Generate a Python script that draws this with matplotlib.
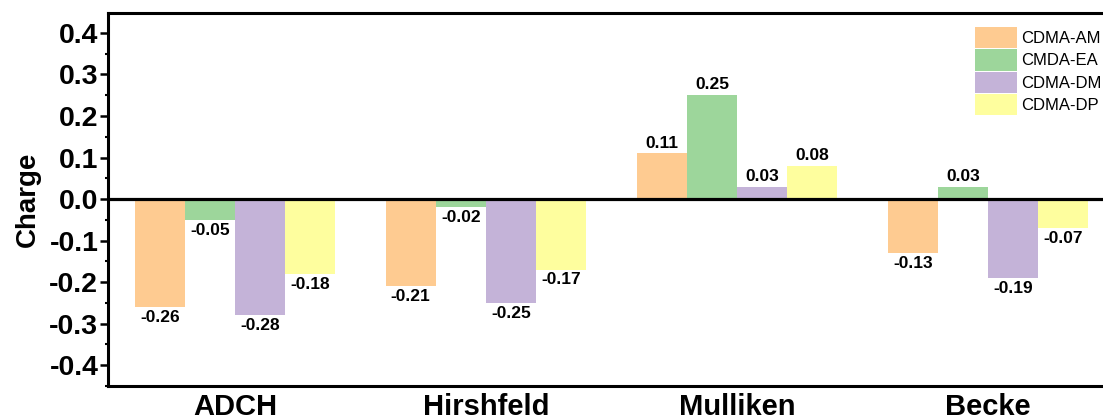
import matplotlib
matplotlib.use("Agg")
import matplotlib.pyplot as plt
from matplotlib.patches import Patch
from matplotlib.ticker import MultipleLocator
import numpy as np

methods = ["ADCH", "Hirshfeld", "Mulliken", "Becke"]
series = ["CDMA-AM", "CMDA-EA", "CDMA-DM", "CDMA-DP"]
cdma_am = [-0.26, -0.21, 0.11, -0.13]
cmda_ea = [-0.05, -0.02, 0.25, 0.03]
cdma_dm = [-0.28, -0.25, 0.03, -0.19]
cdma_dp = [-0.18, -0.17, 0.08, -0.07]
y_ticks = [-0.4, -0.3, -0.2, -0.1, 0.0, 0.1, 0.2, 0.3, 0.4]

colors = ["#FECB91", "#9DD69B", "#C4B3D8", "#FEFE9E"]
values = [cdma_am, cmda_ea, cdma_dm, cdma_dp]

W, H = 1103, 420
fig = plt.figure(figsize=(W / 100, H / 100), dpi=100)
ax = fig.add_axes([108 / W, (H - 386) / H, (1112 - 108) / W, (386 - 13) / H])

x = np.arange(1, len(methods) + 1)
bw = 0.2
offsets = [-0.3, -0.1, 0.1, 0.3]
for vals, off, col in zip(values, offsets, colors):
    bars = ax.bar(x + off, vals, width=bw, color=col, edgecolor="none", zorder=2)
    for b, v in zip(bars, vals):
        ax.annotate(f"{v:.2f}",
                    (b.get_x() + b.get_width() / 2, v),
                    xytext=(0, 2 if v >= 0 else -2), textcoords="offset points",
                    ha="center", va="bottom" if v >= 0 else "top",
                    fontsize=12.5, fontweight="bold", family="Liberation Sans")

ax.axhline(0, color="black", lw=2.3, zorder=3)

ax.set_xlim(0.494, 4.494)
ax.set_ylim(-0.45, 0.448)
ax.set_yticks(y_ticks)
ax.set_yticklabels([f"{t:.1f}" for t in y_ticks])
ax.yaxis.set_minor_locator(MultipleLocator(0.05))
ax.set_xticks(x)
ax.set_xticklabels(methods)

for s in ax.spines.values():
    s.set_linewidth(2.2)

ax.tick_params(axis="y", which="major", direction="out", length=6, width=1.8, pad=1)
ax.tick_params(axis="y", which="minor", direction="out", length=2.5, width=1.5)
ax.tick_params(axis="x", length=0, pad=5)
for lab in ax.get_yticklabels():
    lab.set_fontsize(20.5)
    lab.set_fontweight("bold")
    lab.set_family("Liberation Sans")
for lab in ax.get_xticklabels():
    lab.set_fontsize(21)
    lab.set_fontweight("bold")
    lab.set_family("Liberation Sans")

ax.set_ylabel("Charge", fontsize=20, fontweight="bold", family="Liberation Sans", labelpad=6)

handles = [Patch(facecolor=c, edgecolor="none") for c in colors]
fig.legend(handles, series, loc="upper left",
           bbox_to_anchor=(975 / W, (H - 27) / H),
           frameon=False, prop={"family": "Liberation Sans", "size": 12},
           handlelength=2.5, handleheight=1.6, labelspacing=0.05,
           handletextpad=0.25, borderpad=0, borderaxespad=0)

fig.savefig("out.png", dpi=100, facecolor="white")
